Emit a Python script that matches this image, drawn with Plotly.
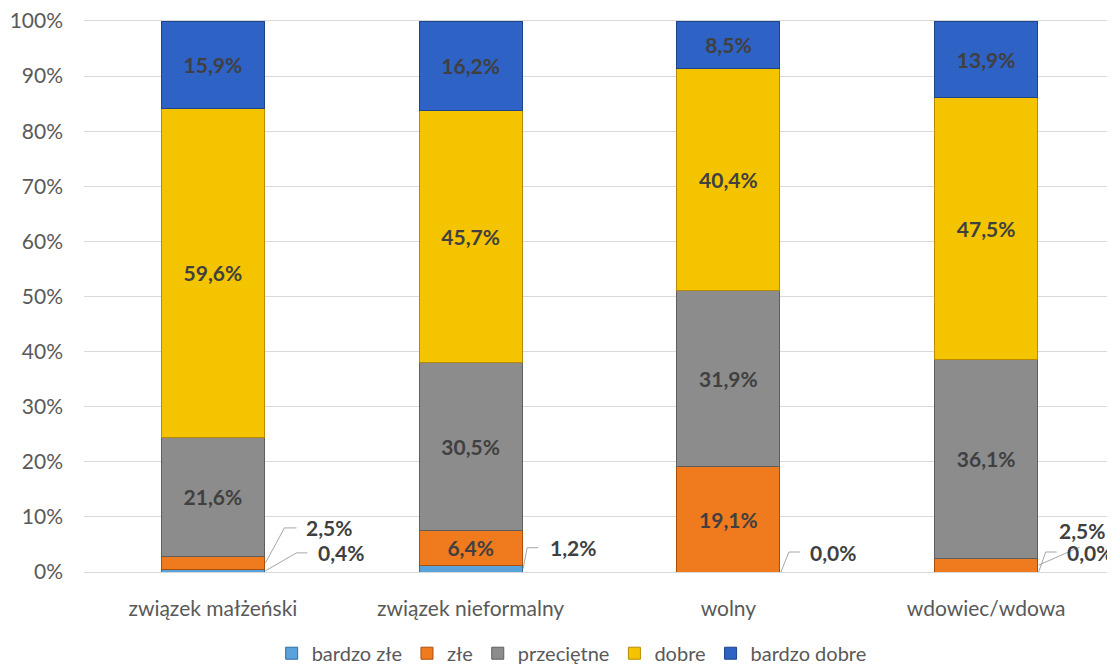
import plotly.graph_objects as go

# dane: ocena stanu zdrowia wg stanu cywilnego (%)
categories = ['związek małżeński', 'związek nieformalny', 'wolny', 'wdowiec/wdowa']
series_names = ['bardzo złe', 'złe', 'przeciętne', 'dobre', 'bardzo dobre']
bardzo_zle = [0.4, 1.2, 0.0, 0.0]
zle = [2.5, 6.4, 19.1, 2.5]
przecietne = [21.6, 30.5, 31.9, 36.1]
dobre = [59.6, 45.7, 40.4, 47.5]
bardzo_dobre = [15.9, 16.2, 8.5, 13.9]
y_ticks = [0, 10, 20, 30, 40, 50, 60, 70, 80, 90, 100]
y_tick_labels = [f'{v}%' for v in y_ticks]

series_values = [bardzo_zle, zle, przecietne, dobre, bardzo_dobre]
colors = ['#5AA2DA', '#F07A1E', '#8C8C8C', '#F5C400', '#2E62C4']
edges = ['#2F6E9E', '#A84F0C', '#5E5E5E', '#B88A00', '#1D4488']

FONT = 'Lato, Liberation Sans, sans-serif'
LABEL_COLOR = '#404040'
GRID = '#D9D9D9'
INSIDE_MIN = 5.0


def fmt(v):
    return f'{v:.1f}'.replace('.', ',') + '%'


fig = go.Figure()

for name, vals, col, edge in zip(series_names, series_values, colors, edges):
    fig.add_trace(go.Bar(
        x=categories,
        y=vals,
        name=name,
        marker=dict(color=col, line=dict(color=edge, width=1)),
        text=[fmt(v) if v >= INSIDE_MIN else '' for v in vals],
        textposition='inside',
        insidetextanchor='middle',
        textangle=0,
        constraintext='none',
        textfont=dict(family=FONT, size=21, color=LABEL_COLOR, weight='bold'),
    ))

# etykiety małych segmentów z liniami odniesienia (przesunięcia w pikselach)
# (seria, kategoria, dx przekątnej, dy przekątnej, długość poziomej, odstęp tekstu)
small_labels = [
    (0, 0, 32, 18, 11, 9),
    (1, 0, 20, 35, 12, 8),
    (0, 1, 5, 21, 11, 10),
    (0, 2, 9, 20, 11, 8),
    (0, 3, 8, 20, 11, 8),
    (1, 3, 42, 18, 0, -23),
]

half_width = 0.2
for s, c, dx, dy, hl, gap in small_labels:
    base = sum(series_values[k][c] for k in range(s))
    mid = base + series_values[s][c] / 2
    xa = c + half_width
    fig.add_shape(
        type='path', xref='x', yref='y',
        xsizemode='pixel', ysizemode='pixel',
        xanchor=xa, yanchor=mid,
        path=f'M1,0 L{dx},{dy} L{dx + hl},{dy}',
        line=dict(color='#A6A6A6', width=1),
    )
    text_dy = dy if s == 0 or c != 3 else dy + 17
    fig.add_annotation(
        x=xa, y=mid, xref='x', yref='y',
        text=fmt(series_values[s][c]),
        showarrow=False,
        xanchor='left', yanchor='middle',
        xshift=dx + hl + gap, yshift=text_dy,
        font=dict(family=FONT, size=21, color=LABEL_COLOR, weight='bold'),
    )

# strona html ma 8 px marginesu, więc figura jest o tyle mniejsza
fig.update_layout(
    barmode='stack',
    bargap=0.6,
    width=1107,
    height=657,
    margin=dict(l=76, r=0, t=13, b=93, autoexpand=False),
    plot_bgcolor='white',
    paper_bgcolor='white',
    font=dict(family=FONT, size=20, color='#595959'),
    legend=dict(
        orientation='h',
        x=0.473, xanchor='center',
        y=-0.112, yanchor='top',
        font=dict(family=FONT, size=20, color='#595959'),
        itemwidth=30,
        traceorder='normal',
    ),
    showlegend=True,
)

# linie na 0% i 100% (siatka na krawędziach nie jest rysowana)
fig.update_xaxes(
    showgrid=False,
    showline=True,
    linecolor=GRID,
    linewidth=1,
    mirror=True,
    ticks='',
    automargin=False,
    ticklabelstandoff=18,
    tickfont=dict(family=FONT, size=21, color='#595959'),
)
fig.update_yaxes(
    range=[0, 100],
    tickmode='array',
    tickvals=y_ticks,
    ticktext=y_tick_labels,
    showgrid=True,
    gridcolor=GRID,
    gridwidth=1,
    zeroline=False,
    showline=False,
    ticks='',
    automargin=False,
    ticklabeloverflow='allow',
    ticklabelstandoff=20,
    tickfont=dict(family=FONT, size=21, color='#595959'),
)

fig.write_html('out.html')
